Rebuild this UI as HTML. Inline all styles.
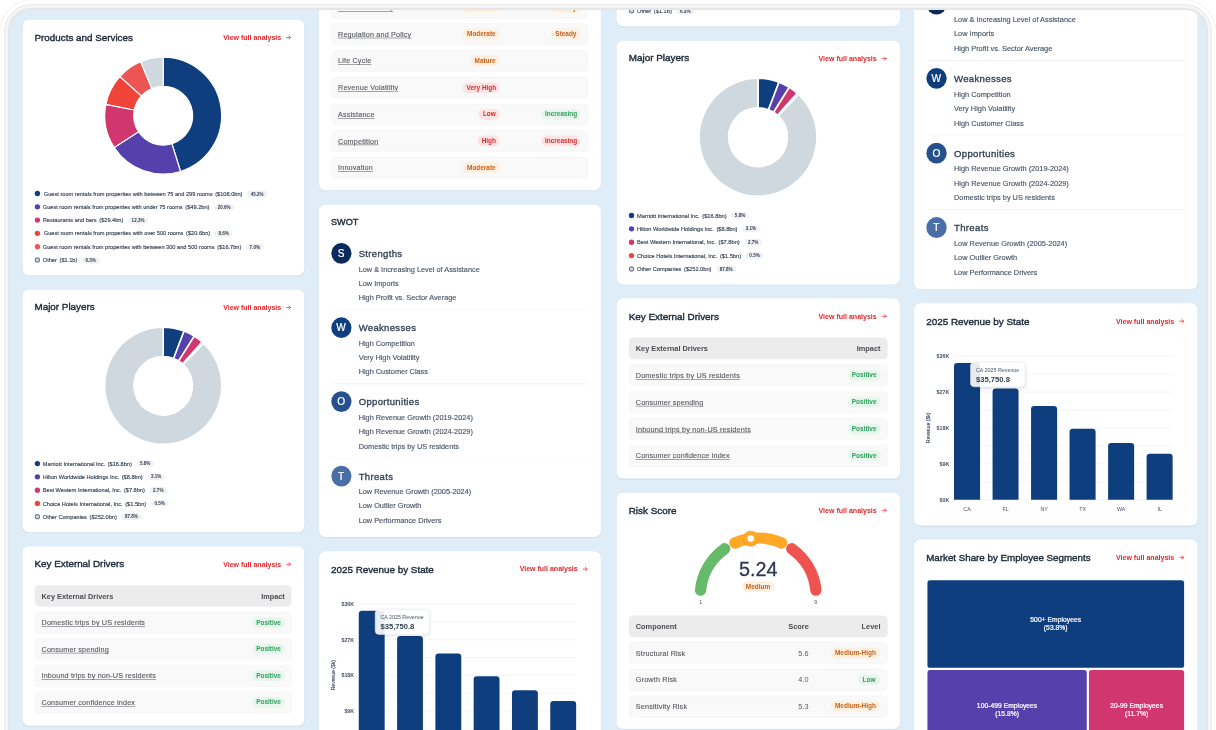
<!DOCTYPE html><html lang="en"><head><meta charset="utf-8"><title>Industry dashboard</title><style>
*{box-sizing:border-box;margin:0;padding:0}
html,body{width:1216px;height:730px;overflow:hidden;background:#fff}
body{font-family:"Liberation Sans",sans-serif;color:#1d2939;position:relative}
.ring{position:absolute;left:-1px;top:-1px;width:1218px;height:800px;border:1px solid #f1f1f1;border-radius:34px}
.f1{position:absolute;left:4px;top:4px;width:1208px;height:800px;border-radius:27px;background:#ececec}
.f2{position:absolute;left:5px;top:5px;width:1206px;height:800px;border-radius:26px;background:#f5f5f5}
.f3{position:absolute;left:8px;top:8px;width:1200px;height:800px;border-radius:23px;background:#e6e6e6}
.screen{position:absolute;left:10px;top:10px;width:1196px;height:800px;border-radius:21px;background:#deedf8;overflow:hidden}
.col{position:absolute;top:0;width:530px;height:10px;transform-origin:0 0}
.card{position:absolute;left:0;width:530px;background:#fff;border-radius:12px;box-shadow:0 1px 2px rgba(16,24,40,.05)}
.title{position:absolute;left:23px;top:21.4px;font-weight:400;font-size:18.5px;line-height:24px;color:#1d2939;white-space:nowrap;letter-spacing:0;-webkit-text-stroke:0.75px #1d2939}
.link{position:absolute;right:24.6px;top:25.2px;font-weight:700;font-size:13.2px;line-height:18px;color:#e4262c;white-space:nowrap}
.link svg{display:inline-block;vertical-align:0.2px;margin-left:9.5px}
svg{display:block;overflow:visible}
.abs{position:absolute}
.lg{position:absolute;left:0;height:16px;line-height:16px;font-size:10.6px;color:#344054;white-space:nowrap;font-weight:400}
.lg .dot{position:absolute;left:23px;top:3px;width:10px;height:10px;border-radius:50%}
.lg .tx{position:absolute;left:38.5px;top:0;-webkit-text-stroke:0.25px #344054}
.lg .pl{display:inline-block;margin-left:9px;height:12px;line-height:12px;padding:0 6.5px;border-radius:6px;background:#eff1f3;font-size:8.5px;font-weight:700;color:#344054;vertical-align:0.5px;-webkit-text-stroke:0}
.lg .amt{margin-left:5px}
.th{position:absolute;left:23.2px;right:23.2px;height:40.6px;background:#ececec;border-radius:8px;font-weight:700;font-size:13.8px;color:#494b51}
.tr{position:absolute;left:23.2px;right:23.2px;height:40.6px;background:#f9f9f9;border:1px solid #f1f1f1;border-radius:8px;font-size:13.6px;letter-spacing:0.3px;color:#56585e}
.th span,.tr span{position:absolute;top:0;line-height:42px;white-space:nowrap}
.tr span{line-height:40.4px}
.tr span.pill,.card>span.pill{line-height:21px}
.tr>span:first-child{-webkit-text-stroke:.2px #56585e}
.tr .u{text-decoration:underline;text-underline-offset:2px;text-decoration-thickness:1px}
.pill{letter-spacing:0;position:absolute;height:20px;line-height:20px;border-radius:10px;font-size:12.1px;font-weight:700;text-align:center;white-space:nowrap;top:9px}
.pg{background:#e7f6ec;color:#2f9e5c}
.po{background:#fdf0e0;color:#c5621c}
.pr{background:#fde3e3;color:#d92d2d}

.sw-c{width:38px;height:39px;border-radius:50%;color:#fff;font-size:19px;line-height:39px;text-align:center;font-weight:400;-webkit-text-stroke:0.4px #fff}
.sw-h{font-size:17.9px;letter-spacing:.62px;line-height:24px;color:#344054;white-space:nowrap;-webkit-text-stroke:0.6px #344054}
.sw-i{font-size:13.8px;line-height:18px;color:#475467;white-space:nowrap;-webkit-text-stroke:0.25px #475467}
.tip{background:rgba(255,255,255,.9);border:1px solid #e4e7ec;border-radius:8px;box-shadow:0 2px 6px rgba(16,24,40,.12)}
.tip .t1{position:absolute;left:10px;top:9px;font-size:10px;line-height:12px;color:#475467;white-space:nowrap}
.tip .t2{position:absolute;left:10px;top:23px;font-size:14.3px;line-height:16px;font-weight:700;color:#344054;white-space:nowrap}
.tm{padding-top:2px;border-radius:5px;color:#fff;font-size:12.5px;letter-spacing:.1px;line-height:15.5px;font-weight:400;-webkit-text-stroke:.4px #fff;text-align:center;display:flex;align-items:center;justify-content:center}
</style></head><body><div class="ring"></div><div class="f1"></div><div class="f2"></div><div class="f3"></div><div class="screen"><div class="col" style="left:12px;top:-10px;transform:scale(0.5316)"><div class="abs" style="left:0.56px;top:0;width:530px"><div class="card" style="top:37.2px;height:480.8px"><div class="title">Products and Services</div><div class="link">View full analysis<svg width="9" height="9" viewBox="0 0 9 9"><path d="M0.8 4.5H8.1M4.9 1.3L8.1 4.5L4.9 7.7" fill="none" stroke="#e4262c" stroke-width="1.35" stroke-linecap="round" stroke-linejoin="round"/></svg></div><svg class="abs" style="left:0;top:0" width="530" height="400" viewBox="0 0 530 400"><path d="M264.60 70.70A109.9 109.9 0 0 1 297.24 285.54L281.06 233.50A55.4 55.4 0 0 0 264.60 125.20Z" fill="#0f3e7f" stroke="#fff" stroke-width="2.2" stroke-linejoin="round"/><path d="M297.24 285.54A109.9 109.9 0 0 1 172.56 240.65L218.20 210.87A55.4 55.4 0 0 0 281.06 233.50Z" fill="#5540ac" stroke="#fff" stroke-width="2.2" stroke-linejoin="round"/><path d="M172.56 240.65A109.9 109.9 0 0 1 156.78 159.33L210.25 169.88A55.4 55.4 0 0 0 218.20 210.87Z" fill="#d2366e" stroke="#fff" stroke-width="2.2" stroke-linejoin="round"/><path d="M156.78 159.33A109.9 109.9 0 0 1 183.08 106.89L223.51 143.44A55.4 55.4 0 0 0 210.25 169.88Z" fill="#f04438" stroke="#fff" stroke-width="2.2" stroke-linejoin="round"/><path d="M183.08 106.89A109.9 109.9 0 0 1 222.22 79.20L243.24 129.48A55.4 55.4 0 0 0 223.51 143.44Z" fill="#ec5551" stroke="#fff" stroke-width="2.2" stroke-linejoin="round"/><path d="M222.22 79.20A109.9 109.9 0 0 1 264.60 70.70L264.60 125.20A55.4 55.4 0 0 0 243.24 129.48Z" fill="#cfd8de" stroke="#fff" stroke-width="2.2" stroke-linejoin="round"/></svg><div class="lg" style="top:319.0px"><span class="dot" style="background:#0f3e7f"></span><span class="tx" style="left:40.5px">Guest room rentals from properties with between 75 and 299 rooms<span class="amt">($108.0bn)</span><span class="pl">45.2%</span></span></div><div class="lg" style="top:344.0px"><span class="dot" style="background:#5540ac"></span><span class="tx" style="left:38.5px">Guest room rentals from properties with under 75 rooms<span class="amt">($49.2bn)</span><span class="pl">20.6%</span></span></div><div class="lg" style="top:369.0px"><span class="dot" style="background:#d2366e"></span><span class="tx" style="left:38.5px">Restaurants and bars<span class="amt">($29.4bn)</span><span class="pl">12.3%</span></span></div><div class="lg" style="top:394.0px"><span class="dot" style="background:#f04438"></span><span class="tx" style="left:40.5px">Guest room rentals from properties with over 500 rooms<span class="amt">($20.6bn)</span><span class="pl">8.6%</span></span></div><div class="lg" style="top:419.0px"><span class="dot" style="background:#ec5551"></span><span class="tx" style="left:38.5px">Guest room rentals from properties with between 300 and 500 rooms<span class="amt">($16.7bn)</span><span class="pl">7.0%</span></span></div><div class="lg" style="top:444.0px"><span class="dot" style="background:#cfd8de;border:2px solid #6f7b8b"></span><span class="tx" style="left:38.5px">Other<span class="amt">($1.1b)</span><span class="pl">6.3%</span></span></div></div><div class="card" style="top:544.8px;height:456.6px"><div class="title">Major Players</div><div class="link">View full analysis<svg width="9" height="9" viewBox="0 0 9 9"><path d="M0.8 4.5H8.1M4.9 1.3L8.1 4.5L4.9 7.7" fill="none" stroke="#e4262c" stroke-width="1.35" stroke-linecap="round" stroke-linejoin="round"/></svg></div><svg class="abs" style="left:0;top:0" width="530" height="400" viewBox="0 0 530 400"><path d="M264.60 70.40A110.2 110.2 0 0 1 303.91 77.65L284.22 129.22A55.0 55.0 0 0 0 264.60 125.60Z" fill="#0f3e7f" stroke="#fff" stroke-width="3.0" stroke-linejoin="round"/><path d="M303.91 77.65A110.2 110.2 0 0 1 323.11 87.22L293.80 133.99A55.0 55.0 0 0 0 284.22 129.22Z" fill="#5540ac" stroke="#fff" stroke-width="3.0" stroke-linejoin="round"/><path d="M323.11 87.22A110.2 110.2 0 0 1 338.05 98.45L301.26 139.60A55.0 55.0 0 0 0 293.80 133.99Z" fill="#d2366e" stroke="#fff" stroke-width="3.0" stroke-linejoin="round"/><path d="M338.05 98.45A110.2 110.2 0 0 1 340.60 100.80L302.53 140.77A55.0 55.0 0 0 0 301.26 139.60Z" fill="#f04438" stroke="#fff" stroke-width="3.0" stroke-linejoin="round"/><path d="M340.60 100.80A110.2 110.2 0 1 1 264.60 70.40L264.60 125.60A55.0 55.0 0 1 0 302.53 140.77Z" fill="#cfd8de" stroke="#fff" stroke-width="3.0" stroke-linejoin="round"/></svg><div class="lg" style="top:319.0px"><span class="dot" style="background:#0f3e7f"></span><span class="tx" style="left:38.5px">Marriott International Inc.<span class="amt">($16.8bn)</span><span class="pl">5.8%</span></span></div><div class="lg" style="top:344.0px"><span class="dot" style="background:#5540ac"></span><span class="tx" style="left:38.5px">Hilton Worldwide Holdings Inc.<span class="amt">($8.8bn)</span><span class="pl">3.1%</span></span></div><div class="lg" style="top:369.0px"><span class="dot" style="background:#d2366e"></span><span class="tx" style="left:38.5px">Best Western International, Inc.<span class="amt">($7.8bn)</span><span class="pl">2.7%</span></span></div><div class="lg" style="top:394.0px"><span class="dot" style="background:#f04438"></span><span class="tx" style="left:38.5px">Choice Hotels International, Inc.<span class="amt">($1.5bn)</span><span class="pl">0.5%</span></span></div><div class="lg" style="top:419.0px"><span class="dot" style="background:#cfd8de;border:2px solid #6f7b8b"></span><span class="tx" style="left:38.5px">Other Companies<span class="amt">($252.0bn)</span><span class="pl">87.8%</span></span></div></div><div class="card" style="top:1027.8px;height:336.8px"><div class="title">Key External Drivers</div><div class="link">View full analysis<svg width="9" height="9" viewBox="0 0 9 9"><path d="M0.8 4.5H8.1M4.9 1.3L8.1 4.5L4.9 7.7" fill="none" stroke="#e4262c" stroke-width="1.35" stroke-linecap="round" stroke-linejoin="round"/></svg></div><div class="th" style="top:72.8px"><span style="left:13px">Key External Drivers</span><span style="right:13px">Impact</span></div><div class="tr" style="top:123.4px"><span class="u" style="left:12px">Domestic trips by US residents</span><span class="pill pg" style="right:12px;width:61px;top:9px">Positive</span></div><div class="tr" style="top:173.5px"><span class="u" style="left:12px">Consumer spending</span><span class="pill pg" style="right:12px;width:61px;top:9px">Positive</span></div><div class="tr" style="top:223.60000000000002px"><span class="u" style="left:12px">Inbound trips by non-US residents</span><span class="pill pg" style="right:12px;width:61px;top:9px">Positive</span></div><div class="tr" style="top:273.70000000000005px"><span class="u" style="left:12px">Consumer confidence index</span><span class="pill pg" style="right:12px;width:61px;top:9px">Positive</span></div></div></div></div><div class="col" style="left:308px;top:-10px;transform:scale(0.5316)"><div class="abs" style="left:1.50px;top:0;width:530px"><div class="card" style="top:-81.6px;height:440.0px"><div class="tr" style="top:75.5px"><span class="u" style="left:12px">Barriers to Entry</span><span class="pill po" style="right:165px;width:70px;top:9px">Moderate</span><span class="pill po" style="right:13px;width:56px;top:9px">Steady</span></div><div class="tr" style="top:125.75px"><span class="u" style="left:12px">Regulation and Policy</span><span class="pill po" style="right:165px;width:70px;top:9px">Moderate</span><span class="pill po" style="right:13px;width:56px;top:9px">Steady</span></div><div class="tr" style="top:176.0px"><span class="u" style="left:12px">Life Cycle</span><span class="pill po" style="right:165px;width:56px;top:9px">Mature</span></div><div class="tr" style="top:226.25px"><span class="u" style="left:12px">Revenue Volatility</span><span class="pill pr" style="right:165px;width:70px;top:9px">Very High</span></div><div class="tr" style="top:276.5px"><span class="u" style="left:12px">Assistance</span><span class="pill pr" style="right:165px;width:40px;top:9px">Low</span><span class="pill pg" style="right:13px;width:74px;top:9px">Increasing</span></div><div class="tr" style="top:326.75px"><span class="u" style="left:12px">Competition</span><span class="pill pr" style="right:165px;width:42px;top:9px">High</span><span class="pill pr" style="right:13px;width:74px;top:9px">Increasing</span></div><div class="tr" style="top:377.0px"><span class="u" style="left:12px">Innovation</span><span class="pill po" style="right:165px;width:70px;top:9px">Moderate</span></div></div><div class="card" style="top:384.9px;height:625.5px"><div class="title" style="font-size:17.2px">SWOT</div><div class="abs sw-c" style="left:23px;top:72.5px;background:#0b2a5c">S</div><div class="abs sw-h" style="left:75px;top:80.6px">Strengths</div><div class="abs sw-i" style="left:75px;top:113.0px">Low &amp; Increasing Level of Assistance</div><div class="abs sw-i" style="left:75px;top:140.0px">Low Imports</div><div class="abs sw-i" style="left:75px;top:167.0px">High Profit vs. Sector Average</div><div class="abs" style="left:23.5px;right:23.5px;top:196.8px;height:1.6px;background:#f1f3f6"></div><div class="abs sw-c" style="left:23px;top:212.0px;background:#0f3e7f">W</div><div class="abs sw-h" style="left:75px;top:220.1px">Weaknesses</div><div class="abs sw-i" style="left:75px;top:252.5px">High Competition</div><div class="abs sw-i" style="left:75px;top:279.5px">Very High Volatility</div><div class="abs sw-i" style="left:75px;top:306.5px">High Customer Class</div><div class="abs" style="left:23.5px;right:23.5px;top:336.3px;height:1.6px;background:#f1f3f6"></div><div class="abs sw-c" style="left:23px;top:351.5px;background:#26518f">O</div><div class="abs sw-h" style="left:75px;top:359.6px">Opportunities</div><div class="abs sw-i" style="left:75px;top:392.0px">High Revenue Growth (2019-2024)</div><div class="abs sw-i" style="left:75px;top:419.0px">High Revenue Growth (2024-2029)</div><div class="abs sw-i" style="left:75px;top:446.0px">Domestic trips by US residents</div><div class="abs" style="left:23.5px;right:23.5px;top:475.8px;height:1.6px;background:#f1f3f6"></div><div class="abs sw-c" style="left:23px;top:491.0px;background:#4a6ea6">T</div><div class="abs sw-h" style="left:75px;top:499.1px">Threats</div><div class="abs sw-i" style="left:75px;top:531.5px">Low Revenue Growth (2005-2024)</div><div class="abs sw-i" style="left:75px;top:558.5px">Low Outlier Growth</div><div class="abs sw-i" style="left:75px;top:585.5px">Low Performance Drivers</div></div><div class="card" style="top:1037.2px;height:415.2px"><div class="title">2025 Revenue by State</div><div class="link">View full analysis<svg width="9" height="9" viewBox="0 0 9 9"><path d="M0.8 4.5H8.1M4.9 1.3L8.1 4.5L4.9 7.7" fill="none" stroke="#e4262c" stroke-width="1.35" stroke-linecap="round" stroke-linejoin="round"/></svg></div><svg class="abs" style="left:0;top:1px" width="530" height="415" viewBox="0 0 530 415" font-family="Liberation Sans, sans-serif"><line x1="74.7" x2="483.6" y1="98.3" y2="98.3" stroke="#f0f2f5" stroke-width="1.4"/><line x1="74.7" x2="483.6" y1="131.8" y2="131.8" stroke="#f0f2f5" stroke-width="1.4"/><line x1="74.7" x2="483.6" y1="165.3" y2="165.3" stroke="#f0f2f5" stroke-width="1.4"/><line x1="74.7" x2="483.6" y1="198.9" y2="198.9" stroke="#f0f2f5" stroke-width="1.4"/><line x1="74.7" x2="483.6" y1="232.4" y2="232.4" stroke="#f0f2f5" stroke-width="1.4"/><line x1="74.7" x2="483.6" y1="265.9" y2="265.9" stroke="#f0f2f5" stroke-width="1.4"/><line x1="74.7" x2="483.6" y1="299.4" y2="299.4" stroke="#f0f2f5" stroke-width="1.4"/><line x1="74.7" x2="483.6" y1="333.0" y2="333.0" stroke="#f0f2f5" stroke-width="1.4"/><line x1="74.7" x2="483.6" y1="366.5" y2="366.5" stroke="#f0f2f5" stroke-width="1.4"/><text x="66" y="101.8" text-anchor="end" font-size="10" font-weight="700" fill="#475467">$36K</text><text x="66" y="168.8" text-anchor="end" font-size="10" font-weight="700" fill="#475467">$27K</text><text x="66" y="235.9" text-anchor="end" font-size="10" font-weight="700" fill="#475467">$18K</text><text x="66" y="302.9" text-anchor="end" font-size="10" font-weight="700" fill="#475467">$9K</text><text x="66" y="370.0" text-anchor="end" font-size="10" font-weight="700" fill="#475467">$0K</text><path d="M74.7 366.5V116.8Q74.7 110.8 80.7 110.8H117.4Q123.4 110.8 123.4 116.8V366.5Z" fill="#0f3e7f"/><text x="99.1" y="387.5" text-anchor="middle" font-size="10" fill="#475467">CA</text><path d="M146.8 366.5V164.5Q146.8 158.5 152.8 158.5H189.4Q195.4 158.5 195.4 164.5V366.5Z" fill="#0f3e7f"/><text x="171.1" y="387.5" text-anchor="middle" font-size="10" fill="#475467">FL</text><path d="M218.8 366.5V197.3Q218.8 191.3 224.8 191.3H261.5Q267.5 191.3 267.5 197.3V366.5Z" fill="#0f3e7f"/><text x="243.2" y="387.5" text-anchor="middle" font-size="10" fill="#475467">NY</text><path d="M290.8 366.5V240.0Q290.8 234.0 296.8 234.0H333.5Q339.5 234.0 339.5 240.0V366.5Z" fill="#0f3e7f"/><text x="315.2" y="387.5" text-anchor="middle" font-size="10" fill="#475467">TX</text><path d="M362.9 366.5V266.5Q362.9 260.5 368.9 260.5H405.6Q411.6 260.5 411.6 266.5V366.5Z" fill="#0f3e7f"/><text x="387.2" y="387.5" text-anchor="middle" font-size="10" fill="#475467">WA</text><path d="M434.9 366.5V286.7Q434.9 280.7 440.9 280.7H477.6Q483.6 280.7 483.6 286.7V366.5Z" fill="#0f3e7f"/><text x="459.3" y="387.5" text-anchor="middle" font-size="10" fill="#475467">IL</text><text transform="translate(30.5,232) rotate(-90)" text-anchor="middle" font-size="9.5" fill="#475467" stroke="#475467" stroke-width="0.3">Revenue ($k)</text></svg><div class="abs tip" style="left:105px;top:109.2px;width:103.7px;height:47.9px"><div class="t1">CA 2025 Revenue</div><div class="t2">$35,750.8</div></div></div></div></div><div class="col" style="left:606px;top:-10px;transform:scale(0.5347)"><div class="abs" style="left:0.75px;top:0;width:530px"><div class="card" style="top:-432.0px;height:480.8px"><div class="title">Products and Services</div><div class="link">View full analysis<svg width="9" height="9" viewBox="0 0 9 9"><path d="M0.8 4.5H8.1M4.9 1.3L8.1 4.5L4.9 7.7" fill="none" stroke="#e4262c" stroke-width="1.35" stroke-linecap="round" stroke-linejoin="round"/></svg></div><svg class="abs" style="left:0;top:0" width="530" height="400" viewBox="0 0 530 400"><path d="M264.60 70.70A109.9 109.9 0 0 1 297.24 285.54L281.06 233.50A55.4 55.4 0 0 0 264.60 125.20Z" fill="#0f3e7f" stroke="#fff" stroke-width="2.2" stroke-linejoin="round"/><path d="M297.24 285.54A109.9 109.9 0 0 1 172.56 240.65L218.20 210.87A55.4 55.4 0 0 0 281.06 233.50Z" fill="#5540ac" stroke="#fff" stroke-width="2.2" stroke-linejoin="round"/><path d="M172.56 240.65A109.9 109.9 0 0 1 156.78 159.33L210.25 169.88A55.4 55.4 0 0 0 218.20 210.87Z" fill="#d2366e" stroke="#fff" stroke-width="2.2" stroke-linejoin="round"/><path d="M156.78 159.33A109.9 109.9 0 0 1 183.08 106.89L223.51 143.44A55.4 55.4 0 0 0 210.25 169.88Z" fill="#f04438" stroke="#fff" stroke-width="2.2" stroke-linejoin="round"/><path d="M183.08 106.89A109.9 109.9 0 0 1 222.22 79.20L243.24 129.48A55.4 55.4 0 0 0 223.51 143.44Z" fill="#ec5551" stroke="#fff" stroke-width="2.2" stroke-linejoin="round"/><path d="M222.22 79.20A109.9 109.9 0 0 1 264.60 70.70L264.60 125.20A55.4 55.4 0 0 0 243.24 129.48Z" fill="#cfd8de" stroke="#fff" stroke-width="2.2" stroke-linejoin="round"/></svg><div class="lg" style="top:319.0px"><span class="dot" style="background:#0f3e7f"></span><span class="tx" style="left:40.5px">Guest room rentals from properties with between 75 and 299 rooms<span class="amt">($108.0bn)</span><span class="pl">45.2%</span></span></div><div class="lg" style="top:344.0px"><span class="dot" style="background:#5540ac"></span><span class="tx" style="left:38.5px">Guest room rentals from properties with under 75 rooms<span class="amt">($49.2bn)</span><span class="pl">20.6%</span></span></div><div class="lg" style="top:369.0px"><span class="dot" style="background:#d2366e"></span><span class="tx" style="left:38.5px">Restaurants and bars<span class="amt">($29.4bn)</span><span class="pl">12.3%</span></span></div><div class="lg" style="top:394.0px"><span class="dot" style="background:#f04438"></span><span class="tx" style="left:40.5px">Guest room rentals from properties with over 500 rooms<span class="amt">($20.6bn)</span><span class="pl">8.6%</span></span></div><div class="lg" style="top:419.0px"><span class="dot" style="background:#ec5551"></span><span class="tx" style="left:38.5px">Guest room rentals from properties with between 300 and 500 rooms<span class="amt">($16.7bn)</span><span class="pl">7.0%</span></span></div><div class="lg" style="top:444.0px"><span class="dot" style="background:#cfd8de;border:2px solid #6f7b8b"></span><span class="tx" style="left:38.5px">Other<span class="amt">($1.1b)</span><span class="pl">6.3%</span></span></div></div><div class="card" style="top:75.7px;height:456.6px"><div class="title">Major Players</div><div class="link">View full analysis<svg width="9" height="9" viewBox="0 0 9 9"><path d="M0.8 4.5H8.1M4.9 1.3L8.1 4.5L4.9 7.7" fill="none" stroke="#e4262c" stroke-width="1.35" stroke-linecap="round" stroke-linejoin="round"/></svg></div><svg class="abs" style="left:0;top:0" width="530" height="400" viewBox="0 0 530 400"><path d="M264.60 70.40A110.2 110.2 0 0 1 303.91 77.65L284.22 129.22A55.0 55.0 0 0 0 264.60 125.60Z" fill="#0f3e7f" stroke="#fff" stroke-width="3.0" stroke-linejoin="round"/><path d="M303.91 77.65A110.2 110.2 0 0 1 323.11 87.22L293.80 133.99A55.0 55.0 0 0 0 284.22 129.22Z" fill="#5540ac" stroke="#fff" stroke-width="3.0" stroke-linejoin="round"/><path d="M323.11 87.22A110.2 110.2 0 0 1 338.05 98.45L301.26 139.60A55.0 55.0 0 0 0 293.80 133.99Z" fill="#d2366e" stroke="#fff" stroke-width="3.0" stroke-linejoin="round"/><path d="M338.05 98.45A110.2 110.2 0 0 1 340.60 100.80L302.53 140.77A55.0 55.0 0 0 0 301.26 139.60Z" fill="#f04438" stroke="#fff" stroke-width="3.0" stroke-linejoin="round"/><path d="M340.60 100.80A110.2 110.2 0 1 1 264.60 70.40L264.60 125.60A55.0 55.0 0 1 0 302.53 140.77Z" fill="#cfd8de" stroke="#fff" stroke-width="3.0" stroke-linejoin="round"/></svg><div class="lg" style="top:319.0px"><span class="dot" style="background:#0f3e7f"></span><span class="tx" style="left:38.5px">Marriott International Inc.<span class="amt">($16.8bn)</span><span class="pl">5.8%</span></span></div><div class="lg" style="top:344.0px"><span class="dot" style="background:#5540ac"></span><span class="tx" style="left:38.5px">Hilton Worldwide Holdings Inc.<span class="amt">($8.8bn)</span><span class="pl">3.1%</span></span></div><div class="lg" style="top:369.0px"><span class="dot" style="background:#d2366e"></span><span class="tx" style="left:38.5px">Best Western International, Inc.<span class="amt">($7.8bn)</span><span class="pl">2.7%</span></span></div><div class="lg" style="top:394.0px"><span class="dot" style="background:#f04438"></span><span class="tx" style="left:38.5px">Choice Hotels International, Inc.<span class="amt">($1.5bn)</span><span class="pl">0.5%</span></span></div><div class="lg" style="top:419.0px"><span class="dot" style="background:#cfd8de;border:2px solid #6f7b8b"></span><span class="tx" style="left:38.5px">Other Companies<span class="amt">($252.0bn)</span><span class="pl">87.8%</span></span></div></div><div class="card" style="top:558.3px;height:336.8px"><div class="title">Key External Drivers</div><div class="link">View full analysis<svg width="9" height="9" viewBox="0 0 9 9"><path d="M0.8 4.5H8.1M4.9 1.3L8.1 4.5L4.9 7.7" fill="none" stroke="#e4262c" stroke-width="1.35" stroke-linecap="round" stroke-linejoin="round"/></svg></div><div class="th" style="top:72.8px"><span style="left:13px">Key External Drivers</span><span style="right:13px">Impact</span></div><div class="tr" style="top:123.4px"><span class="u" style="left:12px">Domestic trips by US residents</span><span class="pill pg" style="right:12px;width:61px;top:9px">Positive</span></div><div class="tr" style="top:173.5px"><span class="u" style="left:12px">Consumer spending</span><span class="pill pg" style="right:12px;width:61px;top:9px">Positive</span></div><div class="tr" style="top:223.60000000000002px"><span class="u" style="left:12px">Inbound trips by non-US residents</span><span class="pill pg" style="right:12px;width:61px;top:9px">Positive</span></div><div class="tr" style="top:273.70000000000005px"><span class="u" style="left:12px">Consumer confidence index</span><span class="pill pg" style="right:12px;width:61px;top:9px">Positive</span></div></div><div class="card" style="top:921.3px;height:442.0px"><div class="title">Risk Score</div><div class="link">View full analysis<svg width="9" height="9" viewBox="0 0 9 9"><path d="M0.8 4.5H8.1M4.9 1.3L8.1 4.5L4.9 7.7" fill="none" stroke="#e4262c" stroke-width="1.35" stroke-linecap="round" stroke-linejoin="round"/></svg></div><svg class="abs" style="left:0;top:1.6px" width="530" height="230" viewBox="0 0 530 230" font-family="Liberation Sans, sans-serif"><path d="M157.15 180.75A108.4 108.4 0 0 1 202.21 103.34" fill="none" stroke="#66bb6a" stroke-width="21.2" stroke-linecap="round"/><path d="M221.26 92.52A108.4 108.4 0 0 1 308.74 92.52" fill="none" stroke="#ffa726" stroke-width="21.2" stroke-linecap="round"/><path d="M327.79 103.34A108.4 108.4 0 0 1 372.85 180.75" fill="none" stroke="#ef5350" stroke-width="21.2" stroke-linecap="round"/><circle cx="251.04" cy="85.70" r="14" fill="rgba(16,24,40,.12)"/><circle cx="251.04" cy="84.20" r="14.2" fill="#ffa726" stroke="#f19a1f" stroke-width="0.8"/><circle cx="251.04" cy="84.20" r="6.2" fill="#fff"/><text x="265.0" y="153.5" text-anchor="middle" font-size="37" fill="#2b3752" stroke="#2b3752" stroke-width="0.5">5.24</text><text x="157.5" y="206.2" text-anchor="middle" font-size="10" fill="#475467">1</text><text x="372.5" y="206.2" text-anchor="middle" font-size="10" fill="#475467">9</text></svg><span class="pill po" style="left:235px;width:60px;top:165.6px">Medium</span><div class="th" style="top:229.8px"><span style="left:13px">Component</span><span style="right:147px">Score</span><span style="right:13px">Level</span></div><div class="tr" style="top:280.0px"><span style="left:12px">Structural Risk</span><span style="right:146px">5.6</span><span class="pill po" style="right:13px;width:91.5px;top:9px">Medium-High</span></div><div class="tr" style="top:330.1px"><span style="left:12px">Growth Risk</span><span style="right:146px">4.0</span><span class="pill pg" style="right:13px;width:41px;top:9px">Low</span></div><div class="tr" style="top:380.2px"><span style="left:12px">Sensitivity Risk</span><span style="right:146px">5.3</span><span class="pill po" style="right:13px;width:91.5px;top:9px">Medium-High</span></div></div></div></div><div class="col" style="left:903px;top:-10px;transform:scale(0.5347)"><div class="abs" style="left:1.68px;top:0;width:530px"><div class="card" style="top:-84.8px;height:625.5px"><div class="title" style="font-size:17.2px">SWOT</div><div class="abs sw-c" style="left:23px;top:72.5px;background:#0b2a5c">S</div><div class="abs sw-h" style="left:75px;top:80.6px">Strengths</div><div class="abs sw-i" style="left:75px;top:113.0px">Low &amp; Increasing Level of Assistance</div><div class="abs sw-i" style="left:75px;top:140.0px">Low Imports</div><div class="abs sw-i" style="left:75px;top:167.0px">High Profit vs. Sector Average</div><div class="abs" style="left:23.5px;right:23.5px;top:196.8px;height:1.6px;background:#f1f3f6"></div><div class="abs sw-c" style="left:23px;top:212.0px;background:#0f3e7f">W</div><div class="abs sw-h" style="left:75px;top:220.1px">Weaknesses</div><div class="abs sw-i" style="left:75px;top:252.5px">High Competition</div><div class="abs sw-i" style="left:75px;top:279.5px">Very High Volatility</div><div class="abs sw-i" style="left:75px;top:306.5px">High Customer Class</div><div class="abs" style="left:23.5px;right:23.5px;top:336.3px;height:1.6px;background:#f1f3f6"></div><div class="abs sw-c" style="left:23px;top:351.5px;background:#26518f">O</div><div class="abs sw-h" style="left:75px;top:359.6px">Opportunities</div><div class="abs sw-i" style="left:75px;top:392.0px">High Revenue Growth (2019-2024)</div><div class="abs sw-i" style="left:75px;top:419.0px">High Revenue Growth (2024-2029)</div><div class="abs sw-i" style="left:75px;top:446.0px">Domestic trips by US residents</div><div class="abs" style="left:23.5px;right:23.5px;top:475.8px;height:1.6px;background:#f1f3f6"></div><div class="abs sw-c" style="left:23px;top:491.0px;background:#4a6ea6">T</div><div class="abs sw-h" style="left:75px;top:499.1px">Threats</div><div class="abs sw-i" style="left:75px;top:531.5px">Low Revenue Growth (2005-2024)</div><div class="abs sw-i" style="left:75px;top:558.5px">Low Outlier Growth</div><div class="abs sw-i" style="left:75px;top:585.5px">Low Performance Drivers</div></div><div class="card" style="top:567.4px;height:415.2px"><div class="title">2025 Revenue by State</div><div class="link">View full analysis<svg width="9" height="9" viewBox="0 0 9 9"><path d="M0.8 4.5H8.1M4.9 1.3L8.1 4.5L4.9 7.7" fill="none" stroke="#e4262c" stroke-width="1.35" stroke-linecap="round" stroke-linejoin="round"/></svg></div><svg class="abs" style="left:0;top:1px" width="530" height="415" viewBox="0 0 530 415" font-family="Liberation Sans, sans-serif"><line x1="74.7" x2="483.6" y1="98.3" y2="98.3" stroke="#f0f2f5" stroke-width="1.4"/><line x1="74.7" x2="483.6" y1="131.8" y2="131.8" stroke="#f0f2f5" stroke-width="1.4"/><line x1="74.7" x2="483.6" y1="165.3" y2="165.3" stroke="#f0f2f5" stroke-width="1.4"/><line x1="74.7" x2="483.6" y1="198.9" y2="198.9" stroke="#f0f2f5" stroke-width="1.4"/><line x1="74.7" x2="483.6" y1="232.4" y2="232.4" stroke="#f0f2f5" stroke-width="1.4"/><line x1="74.7" x2="483.6" y1="265.9" y2="265.9" stroke="#f0f2f5" stroke-width="1.4"/><line x1="74.7" x2="483.6" y1="299.4" y2="299.4" stroke="#f0f2f5" stroke-width="1.4"/><line x1="74.7" x2="483.6" y1="333.0" y2="333.0" stroke="#f0f2f5" stroke-width="1.4"/><line x1="74.7" x2="483.6" y1="366.5" y2="366.5" stroke="#f0f2f5" stroke-width="1.4"/><text x="66" y="101.8" text-anchor="end" font-size="10" font-weight="700" fill="#475467">$36K</text><text x="66" y="168.8" text-anchor="end" font-size="10" font-weight="700" fill="#475467">$27K</text><text x="66" y="235.9" text-anchor="end" font-size="10" font-weight="700" fill="#475467">$18K</text><text x="66" y="302.9" text-anchor="end" font-size="10" font-weight="700" fill="#475467">$9K</text><text x="66" y="370.0" text-anchor="end" font-size="10" font-weight="700" fill="#475467">$0K</text><path d="M74.7 366.5V116.8Q74.7 110.8 80.7 110.8H117.4Q123.4 110.8 123.4 116.8V366.5Z" fill="#0f3e7f"/><text x="99.1" y="387.5" text-anchor="middle" font-size="10" fill="#475467">CA</text><path d="M146.8 366.5V164.5Q146.8 158.5 152.8 158.5H189.4Q195.4 158.5 195.4 164.5V366.5Z" fill="#0f3e7f"/><text x="171.1" y="387.5" text-anchor="middle" font-size="10" fill="#475467">FL</text><path d="M218.8 366.5V197.3Q218.8 191.3 224.8 191.3H261.5Q267.5 191.3 267.5 197.3V366.5Z" fill="#0f3e7f"/><text x="243.2" y="387.5" text-anchor="middle" font-size="10" fill="#475467">NY</text><path d="M290.8 366.5V240.0Q290.8 234.0 296.8 234.0H333.5Q339.5 234.0 339.5 240.0V366.5Z" fill="#0f3e7f"/><text x="315.2" y="387.5" text-anchor="middle" font-size="10" fill="#475467">TX</text><path d="M362.9 366.5V266.5Q362.9 260.5 368.9 260.5H405.6Q411.6 260.5 411.6 266.5V366.5Z" fill="#0f3e7f"/><text x="387.2" y="387.5" text-anchor="middle" font-size="10" fill="#475467">WA</text><path d="M434.9 366.5V286.7Q434.9 280.7 440.9 280.7H477.6Q483.6 280.7 483.6 286.7V366.5Z" fill="#0f3e7f"/><text x="459.3" y="387.5" text-anchor="middle" font-size="10" fill="#475467">IL</text><text transform="translate(30.5,232) rotate(-90)" text-anchor="middle" font-size="9.5" fill="#475467" stroke="#475467" stroke-width="0.3">Revenue ($k)</text></svg><div class="abs tip" style="left:105px;top:109.2px;width:103.7px;height:47.9px"><div class="t1">CA 2025 Revenue</div><div class="t2">$35,750.8</div></div></div><div class="card" style="top:1009.4px;height:420.0px"><div class="title" style="font-size:18.25px">Market Share by Employee Segments</div><div class="link">View full analysis<svg width="9" height="9" viewBox="0 0 9 9"><path d="M0.8 4.5H8.1M4.9 1.3L8.1 4.5L4.9 7.7" fill="none" stroke="#e4262c" stroke-width="1.35" stroke-linecap="round" stroke-linejoin="round"/></svg></div><div class="abs tm" style="left:25.2px;top:75.2px;width:480.1px;height:164.0px;background:#0f3e7f"><div>500+ Employees<br>(53.8%)</div></div><div class="abs tm" style="left:25.2px;top:243.5px;width:298.1px;height:148.9px;background:#5540ac"><div>100-499 Employees<br>(15.8%)</div></div><div class="abs tm" style="left:327.7px;top:243.5px;width:177.7px;height:148.9px;background:#d2366e"><div>20-99 Employees<br>(11.7%)</div></div></div></div></div></div></body></html>
